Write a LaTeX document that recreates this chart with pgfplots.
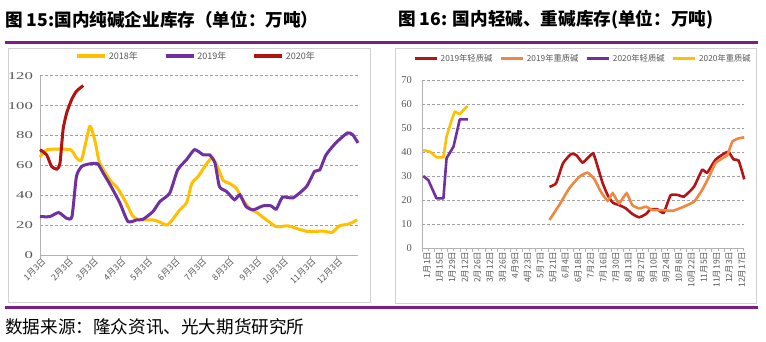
\documentclass[border=0pt]{standalone}
\usepackage{pgfplots}
\pgfplotsset{compat=1.18}
\usepackage{fontspec}
\setmainfont{Liberation Serif}
\newfontfamily\cjk{Noto Sans CJK SC}
\newfontfamily\numwide[FakeStretch=1.6]{Liberation Serif}
\definecolor{c18}{RGB}{255,192,0}
\definecolor{c19}{RGB}{112,48,160}
\definecolor{c20}{RGB}{178,18,18}
\definecolor{lq19}{RGB}{180,20,20}
\definecolor{zq19}{RGB}{240,135,65}
\definecolor{band}{RGB}{125,30,135}
\definecolor{tickgray}{RGB}{89,89,89}
\definecolor{gridgray}{RGB}{160,160,160}

\pgfplotstableread{
d v
0 65.5
8 70.5
34 70.5
41 65
47 64
56 86
62 76
67 62
79 50
87 45
96 36
104.5 26
112 23.5
127 23.5
135 22
143 20
149 23.5
157 30
165 35
171 48
178 52.5
188 61.5
194 65
200 59
206 50
213 48
221 44.7
228 37
236 31.3
245 28
255 23.5
266 19
279 19.5
292 17.2
303 15.6
318 16
329 15.2
337 19.5
348 20.8
357 23.5
}\tabA

\pgfplotstableread{
d v
0 25.7
11 25.7
21 28.4
30 24.6
36 25.7
41 52.5
47 59.3
56 61
65 61
71 55
79 47
90 34.7
99 22.4
109 23.5
116 23.9
127 29
135 35.8
146 41.4
155 57
165 63.8
174 70.5
184 67
191 67
197 61.5
202 45.8
210 42.5
219 37
225 40.3
232 32.4
240 30.2
251 32.9
260 32.9
266 30.7
273 38.7
285 38.3
300 45.8
309 55.9
315 57
322 67
333 75
346 81.7
352 80.5
358 75
}\tabB

\pgfplotstableread{
d v
0 70.5
7.5 67
13 59.3
19 57.5
22.5 61.5
26 84
30 95
35.6 104
41 109.6
48.7 113.4
}\tabC

\pgfplotstableread{
w v
20.25 25.5
21.3 27
22.4 35.3
23.7 39.2
24.5 38.7
25.5 35.6
26.3 37.4
27.2 39.4
27.9 33.9
28.7 27
29.5 22
30.3 18.9
31.3 17.9
32.4 16.5
33.4 14.2
34.5 12.8
35.6 14.2
36.3 16.1
37.4 16.1
38.4 14.7
39.5 22
40.8 22
41.6 21.4
43.2 25.5
44.5 32.5
45.3 31.4
46.6 36.7
47.9 39.2
48.7 40.1
49.5 36.9
50.3 36.4
51.2 28.6
}\tabD

\pgfplotstableread{
w v
20.25 11.7
21.8 17.9
23.4 24.9
25 29.7
26.3 31.4
27.4 28.6
28.4 23.5
29.5 19.7
30.3 22.8
31.3 18.6
32.5 22.8
33.4 17.9
34.5 16.5
35.6 17.2
36.6 15.8
38.2 15.8
39.8 15.5
41.3 16.9
43.2 19.3
44.5 24.2
45.6 29.7
46.6 35.3
47.7 37.4
48.5 38.7
49.3 44.3
50.3 45.7
51.2 46.1
}\tabE

\pgfplotstableread{
w v
0.2 30
1 28.3
2.3 20.7
3.4 20.7
3.9 37.4
5 42.2
6 53.6
7.3 53.6
}\tabF

\pgfplotstableread{
w v
0.2 40.8
1.3 40.1
2.3 37.8
3.4 37.8
3.9 46.4
4.7 53.3
5.2 56.8
6 55.8
7.2 59.2
}\tabG

\pgfplotsset{
  base/.style={
    scale only axis,
    axis lines=left,
    axis line style={-, draw=gray!60, line width=0.6pt},
    ymajorgrids,
    grid style={gridgray, dash pattern=on 2.5pt off 2.5pt, line width=0.6pt},
    ytick style={draw=none},
    xtick style={draw=gray!60, line width=0.5pt},
    tick align=outside,
    major tick length=3.5pt,
    clip=false,
    legend style={draw=none, fill=none, text=tickgray, inner sep=0pt},
  }
}

\begin{document}
\begin{tikzpicture}[x=1pt,y=1pt]
\useasboundingbox (0,0) rectangle (766,341);
\fill[white] (0,0) rectangle (766,341);
\node[anchor=west, inner sep=0] at (5,321) {\cjk\bfseries\fontsize{17.6}{17.6}\selectfont 图 15:国内纯碱企业库存（单位：万吨）};
\node[anchor=west, inner sep=0] at (398,321) {\cjk\bfseries\fontsize{17.6}{17.6}\selectfont 图 16: 国内轻碱、重碱库存(单位：万吨)};
\draw[band, line width=3.3pt] (5,298.5) -- (758,298.5);
\draw[band, line width=3pt] (5,33.5) -- (758,33.5);
\draw[gray!35, line width=0.6pt] (8,39) rectangle (370,293);
\draw[gray!35, line width=0.6pt] (395,38) rectangle (756,293);
\node[anchor=west, inner sep=0] at (5,14) {\cjk\fontsize{17.6}{17.6}\selectfont 数据来源：隆众资讯、光大期货研究所};

\begin{axis}[base,
  at={(40pt,86pt)}, anchor=south west,
  width=318pt, height=179.3pt,
  xmin=0, xmax=358, ymin=0, ymax=120,
  ytick={0,20,...,120},
  /pgf/number format/assume math mode=true,
  yticklabel style={font=\numwide\fontsize{10.5}{10.5}\selectfont, text=tickgray},
  xtick={0,31,59,90,120,151,181,212,243,273,304,334},
  xticklabels={1月3日,2月3日,3月3日,4月3日,5月3日,6月3日,7月3日,8月3日,9月3日,10月3日,11月3日,12月3日},
  xticklabel style={rotate=45, anchor=east, font=\cjk\fontsize{8.6}{8.6}\selectfont, text=tickgray, inner sep=0pt, yshift=-4pt, xshift=2pt},
  legend style={at={(0.491,1.11)}, anchor=center, legend columns=3,
    font=\cjk\fontsize{9}{9}\selectfont,
    /tikz/every even column/.append style={column sep=24pt}},
  legend image code/.code={\draw[#1, line width=3.5pt, line cap=butt] (0pt,0pt) -- (28pt,0pt);},
]
\addplot[c18, line width=3pt, smooth, tension=0.35] table[x=d,y=v]{\tabA};
\addlegendentry{2018年}
\addplot[c19, line width=3pt, smooth, tension=0.35] table[x=d,y=v]{\tabB};
\addlegendentry{2019年}
\addplot[c20, line width=3pt, smooth, tension=0.35] table[x=d,y=v]{\tabC};
\addlegendentry{2020年}
\end{axis}

\begin{axis}[base,
  at={(422pt,93pt)}, anchor=south west,
  width=322.3pt, height=168pt,
  xmin=0, xmax=51.2, ymin=0, ymax=70,
  ytick={0,10,...,70},
  /pgf/number format/assume math mode=true,
  yticklabel style={font=\fontsize{10.5}{10.5}\selectfont, text=tickgray, xshift=-3pt},
  xtick={0,2,...,50},
  minor xtick={1,3,...,51},
  minor tick length=2.5pt,
  xticklabels={1月1日,1月15日,1月29日,2月12日,2月26日,3月12日,3月26日,4月9日,4月23日,5月7日,5月21日,6月4日,6月18日,7月2日,7月16日,7月30日,8月13日,8月27日,9月10日,9月24日,10月8日,10月22日,11月5日,11月19日,12月3日,12月17日},
  xticklabel style={rotate=90, anchor=east, font=\cjk\fontsize{8.5}{8.5}\selectfont, text=tickgray, inner sep=0pt, yshift=-5pt},
  legend style={at={(0.4995,1.127)}, anchor=center, legend columns=4,
    font=\cjk\fontsize{8.3}{8.3}\selectfont,
    /tikz/every even column/.append style={column sep=5pt}},
  legend image code/.code={\draw[#1, line width=3.5pt, line cap=butt] (0pt,0pt) -- (22pt,0pt);},
]
\addplot[lq19, line width=2.6pt, smooth, tension=0.3] table[x=w,y=v]{\tabD};
\addlegendentry{2019年轻质碱}
\addplot[zq19, line width=2.6pt, smooth, tension=0.3] table[x=w,y=v]{\tabE};
\addlegendentry{2019年重质碱}
\addplot[c19, line width=2.6pt, line join=round] table[x=w,y=v]{\tabF};
\addlegendentry{2020年轻质碱}
\addplot[c18, line width=2.6pt, line join=round] table[x=w,y=v]{\tabG};
\addlegendentry{2020年重质碱}
\end{axis}
\end{tikzpicture}
\end{document}
